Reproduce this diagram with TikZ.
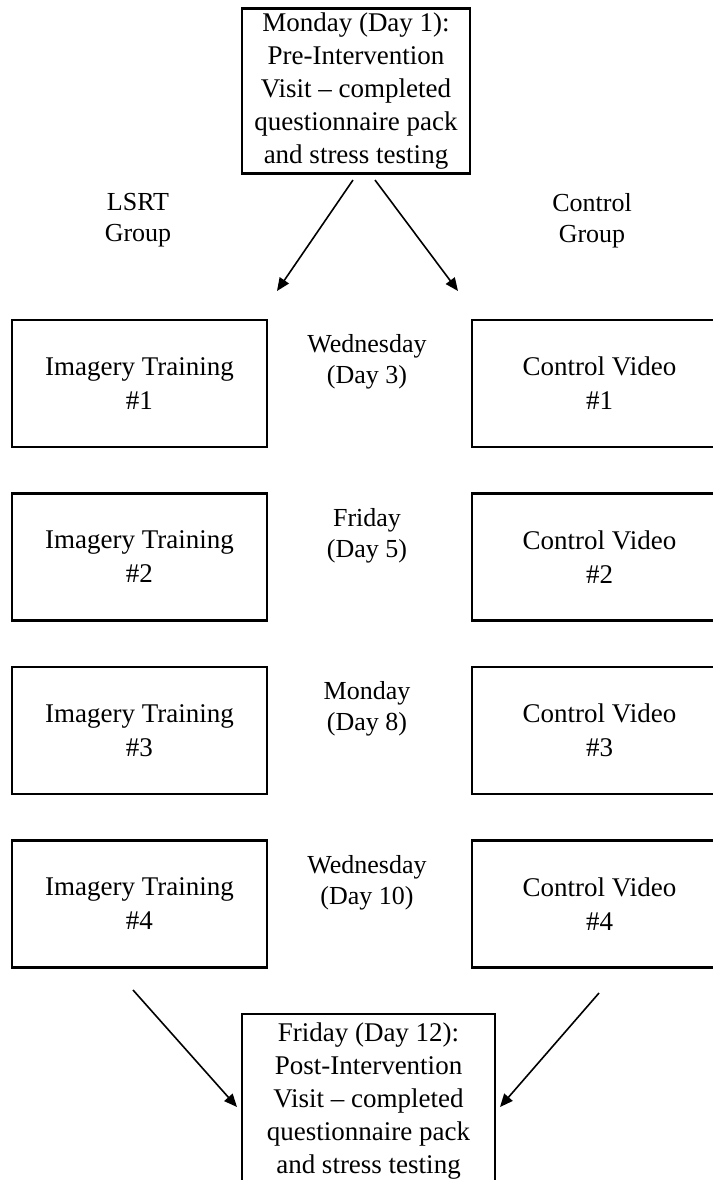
\documentclass[tikz,border=0pt]{standalone}
\usepackage{fontspec}
\setmainfont{Liberation Serif}
\usetikzlibrary{arrows.meta}
\begin{document}
\begin{tikzpicture}[x=0.5pt, y=-0.5pt,
  visit/.style={draw, line width=1.1pt, inner sep=0pt, align=center, minimum width=114pt, font=\fontsize{13.5}{16.5}\selectfont},
  session/.style={draw, line width=1.1pt, inner sep=0pt, align=center, minimum width=127.5pt, minimum height=63.5pt, font=\fontsize{13.5}{17}\selectfont},
  daylbl/.style={align=center, inner sep=0pt, font=\fontsize{13}{15.5}\selectfont},
  arr/.style={-{Triangle[length=6.5pt,width=5.5pt]}, line width=0.8pt}]
\useasboundingbox (0,0) rectangle (713,1180);

% pre-intervention visit
\node[visit, minimum height=82.5pt] (pre) at (356,91) {Monday (Day 1):\\Pre-Intervention\\Visit -- completed\\questionnaire pack\\and stress testing};
\node[daylbl] (lsrt) at (138,220) {LSRT\\Group};
\node[daylbl] (ctrl) at (592,221) {Control\\Group};

% sessions
\node[session] (img1) at (139.5,383.5) {Imagery Training\\\#1};
\node[daylbl] (day3) at (367,362) {Wednesday\\(Day 3)};
\node[session] (vid1) at (599.5,383.5) {Control Video\\\#1};

\node[session] (img2) at (139.5,557) {Imagery Training\\\#2};
\node[daylbl] (day5) at (367,535.5) {Friday\\(Day 5)};
\node[session] (vid2) at (599.5,557) {Control Video\\\#2};

\node[session] (img3) at (139.5,730.5) {Imagery Training\\\#3};
\node[daylbl] (day8) at (367,709) {Monday\\(Day 8)};
\node[session] (vid3) at (599.5,730.5) {Control Video\\\#3};

\node[session] (img4) at (139.5,904) {Imagery Training\\\#4};
\node[daylbl] (day10) at (367,882.5) {Wednesday\\(Day 10)};
\node[session] (vid4) at (599.5,904) {Control Video\\\#4};

% post-intervention visit
\node[visit, minimum width=126.5pt, minimum height=87pt] (post) at (368.5,1101) {Friday (Day 12):\\Post-Intervention\\Visit -- completed\\questionnaire pack\\and stress testing};

% arrow ends
\coordinate (preL) at (353,180);
\coordinate (preR) at (375,180);
\coordinate (toL) at (277,291);
\coordinate (toR) at (458,291);
\coordinate (fromL) at (133,990);
\coordinate (fromR) at (599,993);
\coordinate (postL) at (237,1107);
\coordinate (postR) at (500,1107);

\draw[arr] (preL) -- (toL);
\draw[arr] (preR) -- (toR);
\draw[arr] (fromL) -- (postL);
\draw[arr] (fromR) -- (postR);

\end{tikzpicture}
\end{document}
